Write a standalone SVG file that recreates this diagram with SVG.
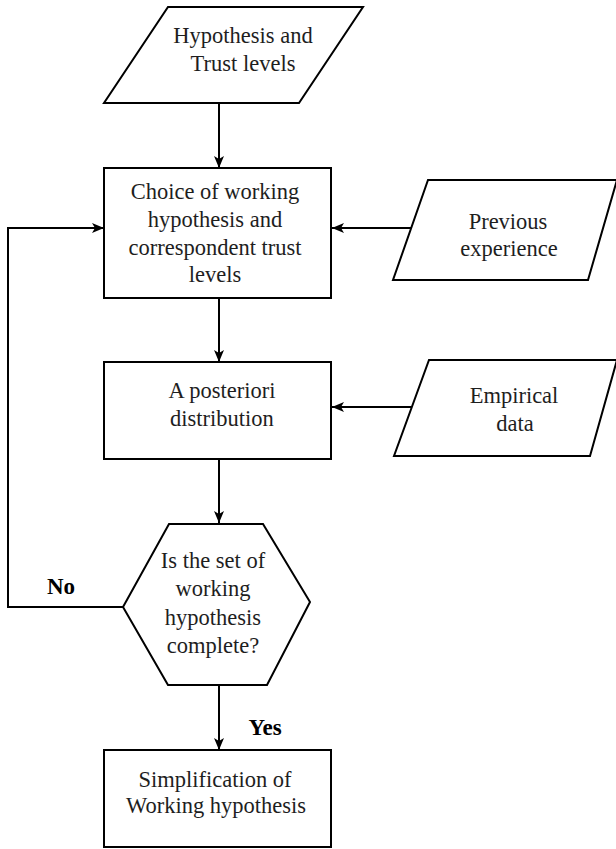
<svg xmlns="http://www.w3.org/2000/svg" width="616" height="849" viewBox="0 0 616 849">
  <style>
    .shape { fill: #ffffff; stroke: #000000; stroke-width: 2; stroke-linejoin: miter; }
    .edge { fill: none; stroke: #000000; stroke-width: 2; }
  </style>
  <defs>
    <marker id="arrow" viewBox="0 0 12 10" refX="12" refY="5" markerWidth="12" markerHeight="10" markerUnits="userSpaceOnUse" orient="auto">
      <path d="M0,0 L12,5 L0,10 L3,5 Z" fill="#000000"/>
    </marker>
  </defs>

  <g id="connectors">
    <line class="edge" x1="219" y1="103" x2="219" y2="168" marker-end="url(#arrow)"/>
    <line class="edge" x1="411" y1="228" x2="332" y2="228" marker-end="url(#arrow)"/>
    <line class="edge" x1="219" y1="298" x2="219" y2="362" marker-end="url(#arrow)"/>
    <line class="edge" x1="412" y1="407" x2="332" y2="407" marker-end="url(#arrow)"/>
    <line class="edge" x1="219" y1="459" x2="219" y2="523" marker-end="url(#arrow)"/>
    <polyline class="edge" points="123,607 8,607 8,228 104,228" marker-end="url(#arrow)"/>
    <line class="edge" x1="219" y1="685" x2="219" y2="750" marker-end="url(#arrow)"/>
    <g font-family="Liberation Serif" font-weight="bold" font-size="23" text-anchor="middle" fill="#000000">
      <text x="61" y="594">No</text>
      <text x="265" y="735">Yes</text>
    </g>
  </g>

  <g font-family="Liberation Serif" font-size="22.5" text-anchor="middle" fill="#1e1e1e">
    <g id="hypothesis-input">
      <polygon class="shape" points="168,7 363,7 299,103 104,103"/>
      <text x="243" y="43">Hypothesis and</text>
      <text x="243" y="71">Trust levels</text>
    </g>

    <g id="choice">
      <rect class="shape" x="104" y="168" width="227" height="130"/>
      <text x="215" y="199">Choice of working</text>
      <text x="215" y="227">hypothesis and</text>
      <text x="215" y="255">correspondent trust</text>
      <text x="215" y="282">levels</text>
    </g>

    <g id="previous-experience">
      <polygon class="shape" points="428,180 617,180 588,280 393,280"/>
      <text x="508" y="229">Previous</text>
      <text x="509" y="256">experience</text>
    </g>

    <g id="posterior">
      <rect class="shape" x="104" y="362" width="227" height="97"/>
      <text x="222" y="398">A posteriori</text>
      <text x="222" y="426">distribution</text>
    </g>

    <g id="empirical-data">
      <polygon class="shape" points="429,360 617,360 590,456 394,456"/>
      <text x="514" y="403">Empirical</text>
      <text x="515" y="431">data</text>
    </g>

    <g id="decision">
      <polygon class="shape" points="169,524 263,524 310,602 267,685 168,685 123,607"/>
      <text x="213" y="568">Is the set of</text>
      <text x="213" y="596">working</text>
      <text x="213" y="625">hypothesis</text>
      <text x="213" y="653">complete?</text>
    </g>

    <g id="simplification">
      <rect class="shape" x="104" y="750" width="227" height="97"/>
      <text x="215" y="787">Simplification of</text>
      <text x="216" y="813">Working hypothesis</text>
    </g>
  </g>
</svg>
